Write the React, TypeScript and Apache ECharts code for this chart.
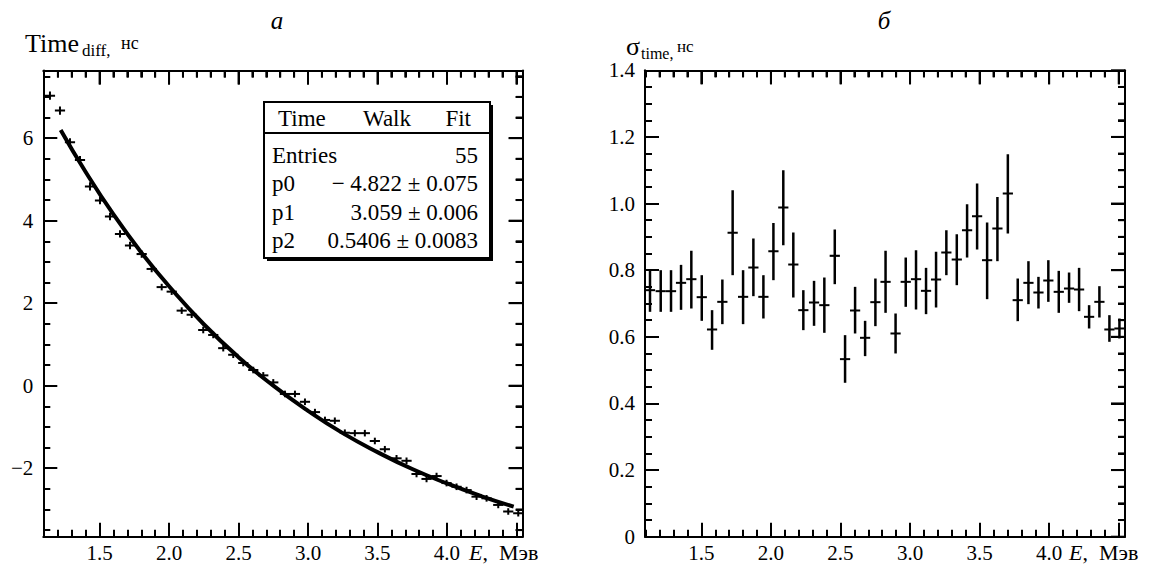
import React, { useEffect, useRef } from "react";
import * as echarts from "echarts";

// ---------- data ----------
const xTickLabels = ["1.5", "2.0", "2.5", "3.0", "3.5", "4.0"];
const leftYTickLabels = ["−2", "0", "2", "4", "6"];
const rightYTickLabels = ["0", "0.2", "0.4", "0.6", "0.8", "1.0", "1.2", "1.4"];

const leftX = [1.143, 1.215, 1.287, 1.359, 1.431, 1.503, 1.575, 1.647, 1.719, 1.803, 1.875, 1.947, 2.019, 2.091, 2.163, 2.246, 2.318, 2.39, 2.462, 2.534, 2.606, 2.678, 2.75, 2.834, 2.906, 2.978, 3.05, 3.122, 3.193, 3.265, 3.337, 3.409, 3.481, 3.553, 3.637, 3.709, 3.781, 3.853, 3.925, 3.997, 4.069, 4.141, 4.213, 4.285, 4.369, 4.441, 4.513];
const leftY = [7.03, 6.67, 5.9, 5.47, 4.83, 4.49, 4.1, 3.68, 3.4, 3.19, 2.83, 2.39, 2.28, 1.82, 1.72, 1.35, 1.23, 0.91, 0.75, 0.55, 0.38, 0.25, 0.08, -0.2, -0.2, -0.39, -0.64, -0.83, -0.85, -1.14, -1.15, -1.15, -1.34, -1.54, -1.76, -1.82, -2.14, -2.26, -2.19, -2.36, -2.45, -2.53, -2.69, -2.73, -2.89, -3.05, -3.09];
const leftErr = [0.1, 0.1, 0.1, 0.1, 0.1, 0.09, 0.09, 0.09, 0.09, 0.09, 0.08, 0.08, 0.08, 0.08, 0.08, 0.08, 0.08, 0.08, 0.08, 0.08, 0.08, 0.08, 0.08, 0.08, 0.08, 0.08, 0.08, 0.08, 0.08, 0.08, 0.08, 0.08, 0.08, 0.08, 0.08, 0.08, 0.08, 0.08, 0.08, 0.08, 0.08, 0.08, 0.08, 0.08, 0.08, 0.08, 0.08];

const fitX = [1.22, 1.4, 1.6, 1.8, 2.0, 2.25, 2.5, 2.75, 3.0, 3.25, 3.5, 3.75, 4.0, 4.25, 4.48];
const fitY = [6.2, 5.18, 4.15, 3.23, 2.41, 1.49, 0.69, 0.0, -0.61, -1.15, -1.61, -2.02, -2.37, -2.68, -2.93];

const rightX = [1.131, 1.208, 1.282, 1.354, 1.428, 1.503, 1.577, 1.651, 1.725, 1.8, 1.874, 1.946, 2.018, 2.089, 2.161, 2.233, 2.31, 2.384, 2.459, 2.533, 2.605, 2.677, 2.751, 2.824, 2.896, 2.969, 3.043, 3.115, 3.187, 3.261, 3.336, 3.41, 3.482, 3.554, 3.628, 3.703, 3.774, 3.851, 3.923, 3.994, 4.069, 4.143, 4.215, 4.287, 4.361, 4.433, 4.505];
const rightY = [0.74, 0.737, 0.737, 0.762, 0.773, 0.719, 0.622, 0.705, 0.912, 0.72, 0.808, 0.72, 0.857, 0.988, 0.817, 0.68, 0.703, 0.695, 0.843, 0.533, 0.679, 0.597, 0.704, 0.765, 0.61, 0.765, 0.773, 0.738, 0.772, 0.853, 0.832, 0.92, 0.962, 0.83, 0.925, 1.03, 0.71, 0.762, 0.733, 0.769, 0.735, 0.745, 0.742, 0.66, 0.705, 0.622, 0.625];
const rightHi = [0.8, 0.8, 0.8, 0.816, 0.858, 0.785, 0.68, 0.772, 1.04, 0.8, 0.895, 0.785, 0.942, 1.1, 0.913, 0.74, 0.768, 0.778, 0.922, 0.605, 0.75, 0.648, 0.775, 0.858, 0.67, 0.838, 0.86, 0.807, 0.855, 0.92, 0.908, 0.998, 1.06, 0.943, 1.02, 1.148, 0.775, 0.827, 0.78, 0.83, 0.798, 0.793, 0.807, 0.695, 0.752, 0.665, 0.655];
const rightLo = [0.675, 0.675, 0.675, 0.681, 0.685, 0.648, 0.561, 0.638, 0.785, 0.638, 0.722, 0.655, 0.77, 0.875, 0.718, 0.62, 0.633, 0.612, 0.758, 0.462, 0.61, 0.542, 0.632, 0.672, 0.55, 0.69, 0.682, 0.668, 0.688, 0.785, 0.755, 0.838, 0.862, 0.713, 0.827, 0.91, 0.647, 0.698, 0.685, 0.705, 0.672, 0.702, 0.677, 0.625, 0.658, 0.585, 0.595];

const statsTitle = ["Time", "Walk", "Fit"];
const statsNames = ["Entries", "p0", "p1", "p2"];
const statsValues = ["55", "− 4.822 ± 0.075", "3.059 ± 0.006", "0.5406 ± 0.0083"];

// ---------- style ----------
const FONT = "'Liberation Serif', 'Times New Roman', Times, serif";
const BIN_HALF = 0.0367;
const X_MIN = 1.095;
const X_MAX = 4.545;
const LY_MIN = -3.66;
const LY_MAX = 7.64;
const RY_MIN = 0;
const RY_MAX = 1.4;
const MAJOR_LEN = 14;
const MINOR_LEN = 7;
const GRIDS = [
  { left: 43.3, top: 70.5, width: 479.4, height: 466.2 },
  { left: 645, top: 70.3, width: 480, height: 466.4 },
];

const tickLine = { color: "#000", width: 2 };

function axisCommon(extra: any) {
  return {
    type: "value",
    splitLine: { show: false },
    axisLine: { show: true, onZero: false, lineStyle: tickLine },
    axisTick: { show: true, inside: true, length: MAJOR_LEN, lineStyle: tickLine },
    ...extra,
  };
}

function xFmt(v: number) {
  const s = v.toFixed(1);
  return xTickLabels.includes(s) ? s : "";
}
function leftYFmt(v: number) {
  const s = v < 0 ? "−" + Math.abs(v).toFixed(0) : v.toFixed(0);
  return Math.abs(v - Math.round(v)) < 1e-6 && leftYTickLabels.includes(s) ? s : "";
}
function rightYFmt(v: number) {
  const s = Math.abs(v) < 1e-9 ? "0" : v.toFixed(1);
  return rightYTickLabels.includes(s) ? s : "";
}
const blankFmt = () => "";

const labelStyle = { color: "#000", fontFamily: FONT, fontSize: 21 };

function errRender(vw: number) {
  return (params: any, api: any) => {
    const x = api.value(0);
    const y = api.value(1);
    const hi = api.value(2);
    const lo = api.value(3);
    const pl = api.coord([x - BIN_HALF, y]);
    const pr = api.coord([x + BIN_HALF, y]);
    const pt = api.coord([x, hi]);
    const pb = api.coord([x, lo]);
    return {
      type: "group",
      children: [
        { type: "line", shape: { x1: pl[0], y1: pl[1], x2: pr[0], y2: pr[1] }, style: { stroke: "#000", lineWidth: 2 } },
        { type: "line", shape: { x1: pt[0], y1: pt[1], x2: pb[0], y2: pb[1] }, style: { stroke: "#000", lineWidth: vw } },
      ],
    };
  };
}

export default function App() {
  const ref = useRef<HTMLDivElement>(null);
  useEffect(() => {
    if (!ref.current) return;
    const chart = echarts.init(ref.current, null, { renderer: "svg" });

    const leftData = leftX.map((x, i) => [x, leftY[i], leftY[i] + leftErr[i], leftY[i] - leftErr[i]]);
    const rightData = rightX.map((x, i) => [x, rightY[i], rightHi[i], rightLo[i]]);
    const fitData = fitX.map((x, i) => [x, fitY[i]]);

    const txt = (text: string, x: number, y: number, size: number, extra: any = {}) => ({
      type: "text",
      x,
      y,
      style: { text, fill: "#000", fontFamily: FONT, fontSize: size, verticalAlign: "middle", align: "left", ...extra },
    });

    const statsGraphics: any[] = [
      { type: "rect", shape: { x: 267, y: 105, width: 226, height: 156 }, style: { fill: "#000" } },
      { type: "rect", shape: { x: 264, y: 102, width: 226, height: 156 }, style: { fill: "#fff", stroke: "#000", lineWidth: 2 } },
      { type: "line", shape: { x1: 264, y1: 133, x2: 490, y2: 133 }, style: { stroke: "#000", lineWidth: 2 } },
      txt(statsTitle[0], 278, 118, 23),
      txt(statsTitle[1], 387, 118, 23, { align: "center" }),
      txt(statsTitle[2], 471, 118, 23, { align: "right" }),
    ];
    const rowY = [155, 183.5, 212, 240.5];
    statsNames.forEach((n, i) => {
      statsGraphics.push(txt(n, 272, rowY[i], 23));
      statsGraphics.push(txt(statsValues[i], 478, rowY[i], 23, { align: "right" }));
    });

    const minorX = { show: true, splitNumber: 5, length: MINOR_LEN, lineStyle: tickLine };
    const minorY = { show: true, splitNumber: 4, length: MINOR_LEN, lineStyle: tickLine };
    const hiddenLabel = { ...labelStyle, formatter: blankFmt };

    const unitText = (x: number) => ({
      type: "text",
      x,
      y: 552,
      style: {
        text: "{i|E}{n|,  Мэв}",
        verticalAlign: "middle",
        rich: {
          i: { fontFamily: FONT, fontSize: 22, fontStyle: "italic", fill: "#000" },
          n: { fontFamily: FONT, fontSize: 22, fill: "#000" },
        },
      },
    });

    const baseGraphics = [
      txt("a", 277, 20, 25, { fontStyle: "italic", align: "center" }),
      txt("б", 884, 20, 25, { fontStyle: "italic", align: "center" }),
      txt("Time", 25, 43, 26),
      txt("diff,", 82, 50, 17),
      txt("нс", 121, 43, 18),
      txt("σ", 626, 46, 26),
      txt("time,", 641, 53, 16),
      txt("нс", 677, 46, 17),
      unitText(469),
      unitText(1069),
      ...statsGraphics,
    ];

    const option: any = {
      animation: false,
      backgroundColor: "#fff",
      grid: GRIDS.map((g) => ({ ...g, show: false })),
      xAxis: [
        axisCommon({ gridIndex: 0, position: "bottom", min: X_MIN, max: X_MAX, minorTick: minorX, axisLabel: { ...labelStyle, margin: 6, formatter: xFmt } }),
        axisCommon({ gridIndex: 0, position: "top", min: X_MIN, max: X_MAX, minorTick: minorX, axisLabel: hiddenLabel }),
        axisCommon({ gridIndex: 1, position: "bottom", min: X_MIN, max: X_MAX, minorTick: minorX, axisLabel: { ...labelStyle, margin: 6, formatter: xFmt } }),
        axisCommon({ gridIndex: 1, position: "top", min: X_MIN, max: X_MAX, minorTick: minorX, axisLabel: hiddenLabel }),
      ],
      yAxis: [
        axisCommon({ gridIndex: 0, position: "left", min: LY_MIN, max: LY_MAX, minorTick: minorY, axisLabel: { ...labelStyle, margin: 10, formatter: leftYFmt } }),
        axisCommon({ gridIndex: 0, position: "right", min: LY_MIN, max: LY_MAX, minorTick: minorY, axisLabel: hiddenLabel }),
        axisCommon({ gridIndex: 1, position: "left", min: RY_MIN, max: RY_MAX, interval: 0.2, minorTick: minorY, axisLabel: { ...labelStyle, margin: 10, formatter: rightYFmt } }),
        axisCommon({ gridIndex: 1, position: "right", min: RY_MIN, max: RY_MAX, interval: 0.2, minorTick: minorY, axisLabel: hiddenLabel }),
      ],
      series: [
        {
          type: "custom",
          name: "Time diff",
          xAxisIndex: 0,
          yAxisIndex: 0,
          renderItem: errRender(2),
          encode: { x: 0, y: 1 },
          data: leftData,
          clip: true,
        },
        {
          type: "line",
          name: "Time Walk Fit",
          xAxisIndex: 0,
          yAxisIndex: 0,
          data: fitData,
          smooth: true,
          showSymbol: false,
          symbol: "none",
          lineStyle: { color: "#000", width: 4 },
          z: 3,
        },
        {
          type: "custom",
          name: "sigma time",
          xAxisIndex: 2,
          yAxisIndex: 2,
          renderItem: errRender(2.5),
          encode: { x: 0, y: 1 },
          data: rightData,
          clip: true,
        },
      ],
      graphic: baseGraphics,
    };
    chart.setOption(option);

    // mirrored ticks on the top and right edges of each frame (drawn again as plain lines)
    const mirror: any[] = [];
    const isMajor = (v: number, m: number) => Math.abs(v / m - Math.round(v / m)) < 1e-6;
    const addTicks = (gridIndex: number, yMin: number, yMax: number, yStep: number, yMajor: number) => {
      const g = GRIDS[gridIndex];
      const top = g.top;
      const right = g.left + g.width;
      for (let k = Math.ceil(X_MIN / 0.1 - 1e-9); k * 0.1 <= X_MAX + 1e-9; k++) {
        const v = k * 0.1;
        const px = g.left + ((v - X_MIN) / (X_MAX - X_MIN)) * g.width;
        const len = isMajor(v, 0.5) ? MAJOR_LEN : MINOR_LEN;
        mirror.push({ type: "line", z: 100, shape: { x1: px, y1: top, x2: px, y2: top + len }, style: { stroke: "#000", lineWidth: 2 }, silent: true });
      }
      for (let k = Math.ceil(yMin / yStep - 1e-9); k * yStep <= yMax + 1e-9; k++) {
        const v = k * yStep;
        const py = g.top + ((yMax - v) / (yMax - yMin)) * g.height;
        const len = isMajor(v, yMajor) ? MAJOR_LEN : MINOR_LEN;
        mirror.push({ type: "line", z: 100, shape: { x1: right, y1: py, x2: right - len, y2: py }, style: { stroke: "#000", lineWidth: 2 }, silent: true });
      }
    };
    addTicks(0, LY_MIN, LY_MAX, 0.5, 2);
    addTicks(1, RY_MIN, RY_MAX, 0.05, 0.2);
    chart.setOption({ graphic: [...baseGraphics, ...mirror] }, { replaceMerge: ["graphic"] });

    return () => chart.dispose();
  }, []);
  return <div ref={ref} style={{ position: "absolute", left: 0, top: 0, width: 1152, height: 566 }} />;
}
